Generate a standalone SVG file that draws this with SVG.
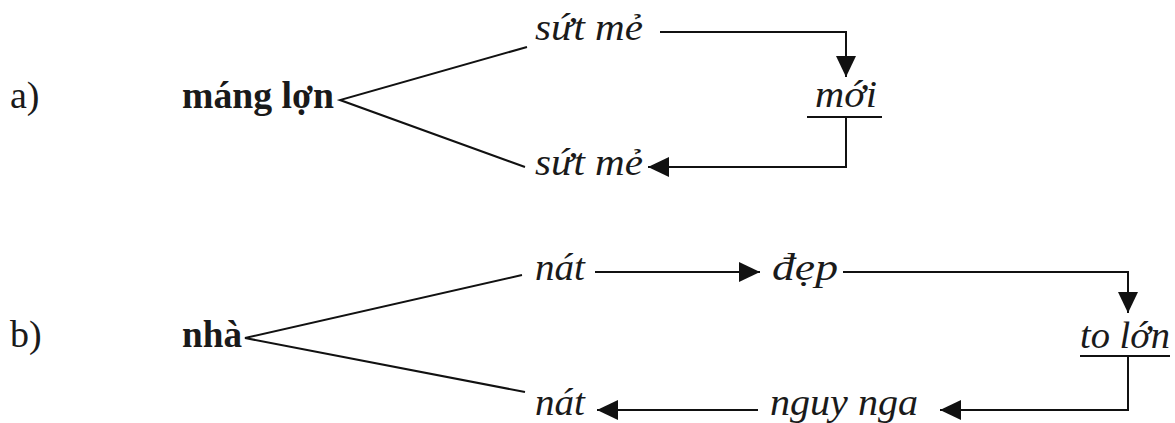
<svg xmlns="http://www.w3.org/2000/svg" width="1175" height="423" viewBox="0 0 1175 423">
<style>
.t{font-family:"Liberation Serif","Times New Roman",serif;fill:#1a1a1a;font-size:38px}
.b{font-weight:bold}
.i{font-style:italic;font-size:38px}
.ln{stroke:#111;stroke-width:2;fill:none}
</style>
<defs>
<marker id="ah" markerUnits="userSpaceOnUse" markerWidth="21" markerHeight="20" refX="21" refY="10" orient="auto">
<path d="M0,0 L21,10 L0,20 z" fill="#111"/>
</marker>
</defs>
<rect width="1175" height="423" fill="#fff"/>
<g id="label-a"><text class="t" x="10" y="108">a)</text></g>
<g id="label-b"><text class="t" x="10" y="347">b)</text></g>
<g id="n-manglon"><text class="t b" x="182" y="108" textLength="152" lengthAdjust="spacingAndGlyphs">máng lợn</text></g>
<g id="n-sutme1"><text class="t i" x="535" y="40" textLength="108" lengthAdjust="spacingAndGlyphs">sứt mẻ</text></g>
<g id="n-moi"><text class="t i" x="815" y="107" textLength="62" lengthAdjust="spacingAndGlyphs">mới</text><line class="ln" x1="807" y1="117" x2="882" y2="117"/></g>
<g id="n-sutme2"><text class="t i" x="535" y="175" textLength="108" lengthAdjust="spacingAndGlyphs">sứt mẻ</text></g>
<g id="n-nha"><text class="t b" x="182" y="347" textLength="60" lengthAdjust="spacingAndGlyphs">nhà</text></g>
<g id="n-nat1"><text class="t i" x="535" y="280" textLength="50" lengthAdjust="spacingAndGlyphs">nát</text></g>
<g id="n-dep"><text class="t i" x="772" y="280" textLength="66" lengthAdjust="spacingAndGlyphs">đẹp</text></g>
<g id="n-tolon"><text class="t i" x="1080" y="348" textLength="90" lengthAdjust="spacingAndGlyphs">to lớn</text><line class="ln" x1="1080" y1="356" x2="1170" y2="356"/></g>
<g id="n-nguynga"><text class="t i" x="770" y="415" textLength="148" lengthAdjust="spacingAndGlyphs">nguy nga</text></g>
<g id="n-nat2"><text class="t i" x="535" y="415" textLength="50" lengthAdjust="spacingAndGlyphs">nát</text></g>
<g id="connectors">
<path class="ln" d="M527,47 L340,100 L525,167"/>
<path class="ln" d="M660,32 H846 V77" marker-end="url(#ah)"/>
<path class="ln" d="M846,117 V167 H648" marker-end="url(#ah)"/>
<path class="ln" d="M522,275 L245,338 L525,392"/>
<path class="ln" d="M595,272 H760" marker-end="url(#ah)"/>
<path class="ln" d="M843,272 H1128 V313" marker-end="url(#ah)"/>
<path class="ln" d="M1128,356 V410 H940" marker-end="url(#ah)"/>
<path class="ln" d="M758,410 H597" marker-end="url(#ah)"/>
</g>
</svg>
